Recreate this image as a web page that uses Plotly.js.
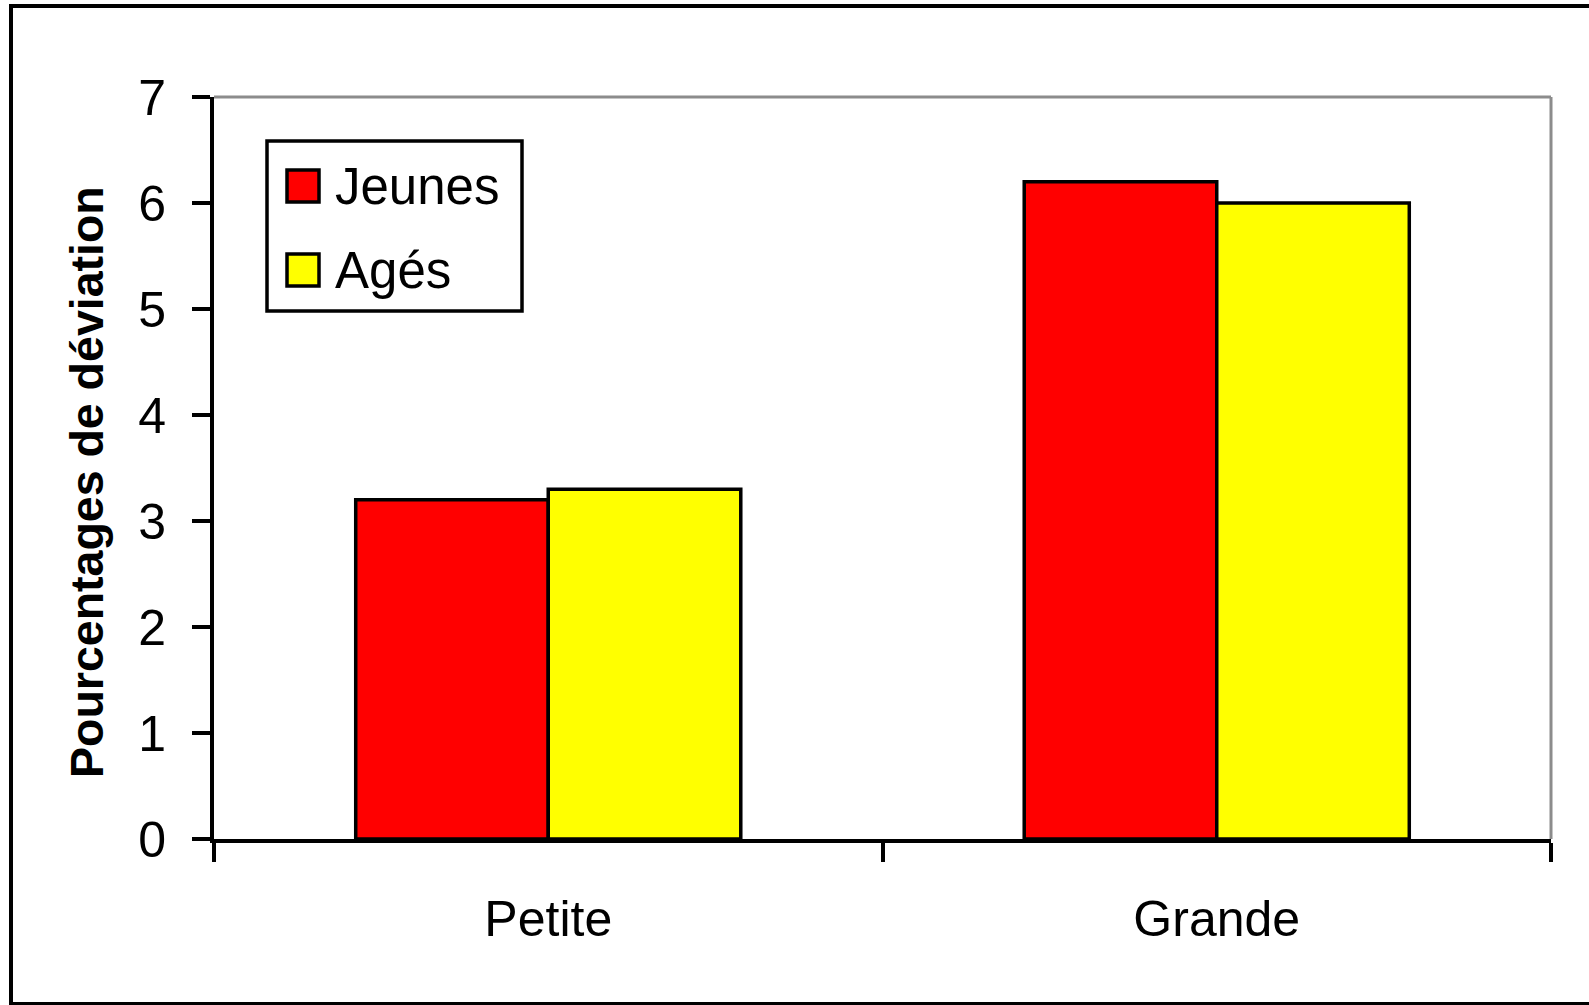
<!DOCTYPE html>
<html>
<head>
<meta charset="utf-8">
<script src="https://cdn.plot.ly/plotly-3.0.1.min.js"></script>
<style>
  html, body { margin: 0; padding: 0; background: #ffffff; }
  #chart { width: 1589px; height: 1005px; }
</style>
</head>
<body>
<div id="chart"></div>
<script>
// ---- Data ----
const categories = ["Petite", "Grande"];
const seriesNames = ["Jeunes", "Agés"];
const jeunesValues = [3.2, 6.2];
const agesValues = [3.3, 6.0];
const yTickValues = [0, 1, 2, 3, 4, 5, 6, 7];
const yTitle = "Pourcentages de déviation";

// ---- Styling / layout constants (pixels) ----
const W = 1589, H = 1005;
const L = 214, R = 1551, T = 97, B = 839;
const PW = R - L, PH = B - T;
const px = x => (x - L) / PW;
const py = y => (B - y) / PH;
const FONT = "Liberation Sans, Arial, sans-serif";
const colors = ["#ff0000", "#ffff00"];

const traces = [
  {
    type: "bar", name: seriesNames[0], x: categories, y: jeunesValues,
    marker: { color: colors[0], line: { color: "#000000", width: 3.5 } },
    showlegend: false, hoverinfo: "x+y+name"
  },
  {
    type: "bar", name: seriesNames[1], x: categories, y: agesValues,
    marker: { color: colors[1], line: { color: "#000000", width: 3.5 } },
    showlegend: false, hoverinfo: "x+y+name"
  }
];

const shapes = [
  // outer chart frame
  { type: "rect", xref: "paper", yref: "paper",
    x0: px(11), x1: px(1600), y0: py(1004), y1: py(6),
    line: { color: "#000000", width: 4 }, fillcolor: "rgba(0,0,0,0)" },
  // grey top and right plot-area edges
  { type: "line", xref: "paper", yref: "paper", x0: 0, x1: 1, y0: 1, y1: 1,
    line: { color: "#8c8c8c", width: 3 } },
  { type: "line", xref: "paper", yref: "paper", x0: 1, x1: 1, y0: 0, y1: 1,
    line: { color: "#8c8c8c", width: 3 } },
  // legend box
  { type: "rect", xref: "paper", yref: "paper",
    x0: px(267), x1: px(522), y0: py(311), y1: py(141),
    line: { color: "#000000", width: 3.5 }, fillcolor: "#ffffff" }
];

const annotations = [
  { xref: "paper", yref: "paper", x: px(87), y: py(482),
    text: "<b>" + yTitle + "</b>", textangle: -90, showarrow: false,
    xanchor: "center", yanchor: "middle",
    font: { family: FONT, size: 46.5, color: "#000000" } }
];

const legendRows = [186, 270];
seriesNames.forEach((name, i) => {
  const cy = legendRows[i];
  shapes.push({ type: "rect", xref: "paper", yref: "paper",
    x0: px(287), x1: px(319), y0: py(cy + 16), y1: py(cy - 16),
    line: { color: "#000000", width: 3.5 }, fillcolor: colors[i] });
  annotations.push({ xref: "paper", yref: "paper", x: px(333), y: py(cy),
    text: name, showarrow: false, xanchor: "left", yanchor: "middle",
    font: { family: FONT, size: 51, color: "#000000" } });
});

const layout = {
  width: W, height: H,
  margin: { l: L, r: W - R, t: T, b: H - B, pad: 0 },
  paper_bgcolor: "#ffffff", plot_bgcolor: "#ffffff",
  font: { family: FONT, color: "#000000" },
  barmode: "group", bargap: 0.424, bargroupgap: 0,
  showlegend: false,
  xaxis: {
    type: "category", categoryorder: "array", categoryarray: categories,
    tickson: "boundaries", ticks: "outside", ticklen: 19, tickwidth: 4, tickcolor: "#000000",
    showline: true, linecolor: "#000000", linewidth: 4,
    showgrid: false, zeroline: false,
    tickfont: { family: FONT, size: 50, color: "#000000" },
    ticklabelstandoff: 33
  },
  yaxis: {
    range: [0, 7], tickvals: yTickValues, ticktext: yTickValues.map(String),
    ticks: "outside", ticklen: 18, tickwidth: 4, tickcolor: "#000000",
    showline: true, linecolor: "#000000", linewidth: 4,
    showgrid: false, zeroline: false,
    tickfont: { family: FONT, size: 50, color: "#000000" },
    ticklabelstandoff: 16
  },
  shapes: shapes,
  annotations: annotations
};

Plotly.newPlot("chart", traces, layout, { displayModeBar: false, staticPlot: true });
</script>
</body>
</html>
